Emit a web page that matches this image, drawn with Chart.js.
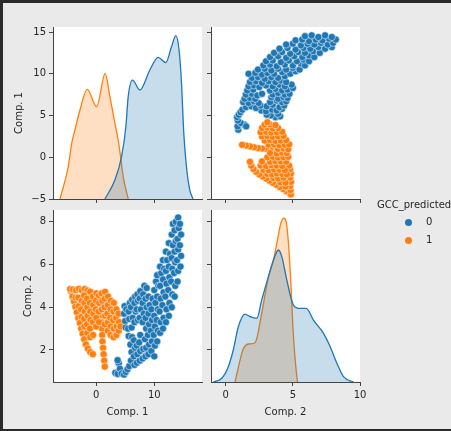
<!DOCTYPE html>
<html>
<head>
<meta charset="utf-8">
<script src="https://cdn.jsdelivr.net/npm/chart.js@4.4.0/dist/chart.umd.min.js"></script>
<style>
  html, body { margin: 0; padding: 0; background: #2b2b2b; }
  #wrap { position: relative; width: 451px; height: 431px; overflow: hidden; }
  #inner { position: absolute; left: 3px; top: 3px; width: 448px; height: 426px; background: #eaeaea; }
  canvas { position: absolute; left: 0; top: 0; }
  .leg { position: absolute; font-family: 'DejaVu Sans'; font-size: 10px; color: #262626; line-height: 12px; white-space: nowrap; }
  .dot { position: absolute; width: 7px; height: 7px; border-radius: 50%; }
</style>
</head>
<body>
<div id="wrap">
  <div id="inner"></div>
  <canvas id="kde1" width="451" height="431"></canvas>
  <canvas id="sc12" width="451" height="431"></canvas>
  <canvas id="sc21" width="451" height="431"></canvas>
  <canvas id="kde2" width="451" height="431"></canvas>
  <div class="leg" style="left:377px; top:199px;">GCC_predicted</div>
  <div class="dot" style="left:405px; top:219px; background:#1f77b4;"></div>
  <div class="leg" style="left:426px; top:216px;">0</div>
  <div class="dot" style="left:405px; top:237px; background:#ff7f0e;"></div>
  <div class="leg" style="left:426px; top:234px;">1</div>
</div>
<script>
// categories
const hueLabels = ['0', '1'];

// scatter points [Comp. 1, Comp. 2]
const pointsGcc0 = [
  [3.3,0.93],[3.7,0.88],[3.9,1.38],[4.1,1.12],[3.7,1.52],[4.4,0.9],[4.8,0.85],[5.1,0.97],[5.4,1.1],[5.7,1.24],
  [4.8,3.7],[4.9,4.05],[5.0,3.35],[5.2,3.9],[5.1,3.05],
  [5.6,2.65],[5.5,3.0],[5.7,3.45],[5.6,3.8],[5.8,4.2],
  [6.0,1.5],[6.1,1.9],[5.9,2.25],[6.2,2.6],[6.1,3.05],[6.3,3.5],[6.0,4.0],[6.2,4.35],
  [6.6,1.3],[6.5,1.7],[6.7,2.1],[6.5,2.45],[6.6,3.3],[6.8,3.8],[6.6,4.2],[6.7,4.5],
  [7.0,1.4],[7.1,1.8],[7.0,2.2],[7.2,3.4],[7.0,3.9],[7.2,4.3],[7.1,4.6],
  [7.5,1.5],[7.6,1.95],[7.4,2.35],[7.6,2.7],[7.5,3.5],[7.7,3.9],[7.5,4.4],[7.6,4.75],
  [8.0,1.6],[8.1,2.05],[8.0,3.3],[8.2,3.7],[8.0,4.2],[8.1,4.6],[8.3,5.0],
  [8.5,1.7],[8.6,2.1],[8.4,2.5],[8.6,3.0],[8.5,3.5],[8.7,4.0],[8.5,4.4],[8.7,4.9],
  [9.0,1.8],[9.1,2.25],[8.9,2.7],[9.1,3.2],[9.0,3.7],[9.2,4.1],[9.0,4.5],
  [9.5,1.95],[9.6,2.4],[9.4,2.9],[9.6,3.4],[9.5,3.9],[9.7,4.4],
  [10.0,1.7],[10.1,2.2],[9.9,2.7],[10.1,3.1],[10.0,3.6],[10.2,4.2],[10.0,4.8],[10.3,5.2],
  [10.5,2.4],[10.6,2.9],[10.4,3.4],[10.6,3.9],[10.5,4.5],[10.7,5.0],[10.5,5.5],
  [11.0,2.8],[11.1,3.3],[10.9,3.8],[11.1,4.4],[11.0,5.0],[11.2,5.6],[11.0,5.9],
  [11.5,3.0],[11.6,3.5],[11.4,4.1],[11.6,4.7],[11.5,5.3],[11.7,5.8],[11.5,6.2],
  [12.0,3.3],[12.1,3.9],[11.9,4.5],[12.1,5.1],[12.0,5.7],[12.2,6.2],[12.0,6.6],
  [12.5,3.6],[12.6,4.2],[12.4,4.8],[12.6,5.4],[12.5,5.9],[12.7,6.5],[12.5,7.0],
  [13.0,4.0],[13.1,4.6],[12.9,5.2],[13.1,5.8],[13.0,6.3],[13.2,6.9],[13.0,7.4],[13.2,7.9],
  [13.5,4.5],[13.6,5.0],[13.4,5.6],[13.6,6.1],[13.5,6.6],[13.7,7.1],[13.5,7.6],[13.7,8.0],
  [14.0,5.2],[14.1,5.7],[13.9,6.2],[14.1,6.7],[14.0,7.2],[14.2,7.7],[14.1,8.2],
  [14.5,5.9],[14.6,6.4],[14.4,6.9],[14.6,7.4],[14.4,7.9]
];
const pointsGcc1 = [
  [-4.3,4.75],[-4.05,4.5],[-3.8,4.27],[-3.55,4.02],[-3.3,3.76],[-3.05,3.5],[-2.8,3.26],[-2.55,3.0],
  [-2.3,2.76],[-2.05,2.5],[-1.75,2.26],[-1.4,2.06],[-1.0,1.9],[-0.55,1.8],
  [-4.45,4.85],[-3.95,4.83],[-3.45,4.8],[-2.95,4.86],[-2.45,4.8],[-1.95,4.85],[-1.45,4.78],[-1.0,4.72],
  [0.8,3.6],[0.9,3.3],[1.0,3.0],[1.05,2.7],[1.1,2.4],[1.2,2.1],[1.3,1.8],[1.4,1.5],[1.5,1.22],
  [-3.5,4.45],[-3.0,4.05],[-3.05,4.45],
  [-2.5,3.55],[-2.55,3.9],[-2.45,4.3],
  [-2.0,3.1],[-2.05,3.45],[-1.95,3.8],[-2.0,4.2],[-2.05,4.55],
  [-1.5,2.8],[-1.55,3.2],[-1.45,3.6],[-1.5,4.0],[-1.55,4.4],
  [-1.0,2.6],[-1.05,3.0],[-0.95,3.4],[-1.0,3.8],[-1.05,4.2],
  [-0.5,2.7],[-0.55,3.3],[-0.45,3.7],[-0.5,4.1],[-0.55,4.5],
  [0.0,3.1],[0.05,3.5],[-0.05,3.9],[0.0,4.3],[0.05,4.65],
  [0.5,3.3],[0.45,3.8],[0.55,4.2],[0.5,4.55],
  [1.0,3.9],[1.05,4.3],[0.95,4.65],
  [1.5,3.2],[1.55,3.6],[1.45,4.0],[1.5,4.4],[1.55,4.72],
  [2.0,2.9],[2.05,3.3],[1.95,3.7],[2.0,4.1],[2.05,4.5],
  [2.5,2.7],[2.55,3.1],[2.45,3.5],[2.5,3.9],[2.55,4.3],
  [3.0,2.6],[3.05,3.0],[2.95,3.4],[3.0,3.8],[3.05,4.2],
  [3.5,2.7],[3.55,3.1],[3.45,3.5],[3.5,3.9],
  [3.9,2.9],[3.95,3.3],[3.85,3.7],[4.2,3.1]
];

// KDE curves
const kdeComp1X_0 = [1.52, 3.23, 4.38, 5.12, 5.52, 6.27, 7.52, 9.24, 10.66, 11.98, 12.96, 13.70, 14.26, 14.68, 15.07, 15.53, 16.10, 16.66];
const kdeComp1Y_0 = [0, 0.0088, 0.0197, 0.0336, 0.0476, 0.0553, 0.0507, 0.060, 0.0659, 0.0634, 0.0708, 0.076, 0.0693, 0.0538, 0.0306, 0.015, 0.0042, 0];
const kdeComp1X_1 = [-6.2, -4.78, -4.19, -3.63, -2.77, -1.52, 0.10, 1.57, 2.38, 3.24, 3.80, 4.21, 4.66, 5.52];
const kdeComp1Y_1 = [0, 0.015, 0.0259, 0.0321, 0.0414, 0.051, 0.0429, 0.0584, 0.0476, 0.0352, 0.0274, 0.0197, 0.0104, 0];
const kdeComp2X_0 = [-0.93, -0.30, 0.19, 0.56, 0.94, 1.44, 1.81, 2.31, 2.68, 3.18, 3.60, 3.92, 4.18, 4.55, 5.04, 5.54, 5.99, 6.53, 7.28, 7.78, 8.28, 8.77, 9.52];
const kdeComp2Y_0 = [0, 0.0086, 0.0356, 0.0744, 0.129, 0.158, 0.152, 0.148, 0.191, 0.245, 0.288, 0.307, 0.291, 0.237, 0.179, 0.171, 0.171, 0.144, 0.113, 0.082, 0.0435, 0.0123, 0];
const kdeComp2X_1 = [0.69, 1.01, 1.27, 1.68, 2.18, 2.68, 3.18, 3.55, 3.85, 4.10, 4.33, 4.50, 4.67, 4.85, 5.00, 5.15, 5.34];
const kdeComp2Y_1 = [0, 0.0435, 0.0744, 0.0884, 0.0914, 0.16, 0.245, 0.284, 0.330, 0.369, 0.381, 0.373, 0.323, 0.230, 0.129, 0.059, 0];

// tick labels
const ticksComp1 = [0, 10];
const ticksComp1Row = [-5, 0, 5, 10, 15];
const ticksComp2 = [0, 5, 10];
const ticksComp2Row = [2, 4, 6, 8];

const colors = ['#1f77b4', '#ff7f0e'];
const fills = ['rgba(31,119,180,0.25)', 'rgba(255,127,14,0.25)'];
const AXIS_COLOR = '#444';
const TEXT_COLOR = '#262626';
const FONT = {family: 'DejaVu Sans', size: 10};

// white face for each axes
const whiteArea = {
  id: 'whiteArea',
  beforeDraw(chart) {
    const a = chart.chartArea;
    const ctx = chart.ctx;
    ctx.save();
    ctx.fillStyle = '#ffffff';
    ctx.fillRect(a.left, a.top, a.right - a.left, a.bottom - a.top);
    ctx.restore();
  }
};

function axis(o) {
  return {
    type: 'linear',
    position: o.position,
    min: o.min,
    max: o.max,
    afterBuildTicks: s => { s.ticks = o.ticks.map(v => ({value: v})); },
    afterFit: s => { if (o.position === 'left') s.width = o.size; else s.height = o.size; },
    grid: {drawOnChartArea: false, drawTicks: true, tickLength: 4, tickColor: AXIS_COLOR, tickWidth: 1},
    border: {display: true, color: AXIS_COLOR, width: 1},
    ticks: {
      display: o.labels, color: TEXT_COLOR, font: FONT, padding: 3,
      maxRotation: 0, autoSkip: false,
      callback: v => v < 0 ? '\u2212' + Math.abs(v) : String(v)
    },
    title: {display: !!o.title, text: o.title || '', color: TEXT_COLOR, font: FONT, padding: 0}
  };
}

function zip(xs, ys) {
  return xs.map((x, i) => ({x: x, y: ys[i]}));
}

function kdeSet(xs, ys, k) {
  return {
    type: 'line', label: hueLabels[k], data: zip(xs, ys), yAxisID: 'yd',
    borderColor: colors[k], backgroundColor: fills[k], borderWidth: 1.3,
    fill: 'origin', pointRadius: 0, cubicInterpolationMode: 'monotone'
  };
}

function scatterSet(pts, k, flip) {
  return {
    type: 'scatter', label: hueLabels[k],
    data: pts.map(p => flip ? {x: p[1], y: p[0]} : {x: p[0], y: p[1]}),
    backgroundColor: colors[k], borderColor: 'rgba(255,255,255,0.85)',
    borderWidth: 0.6, pointRadius: 3.6
  };
}

function panel(id, datasets, scales, pad) {
  new Chart(document.getElementById(id), {
    type: 'scatter',
    data: {datasets: datasets},
    options: {
      responsive: false,
      animation: false,
      layout: {padding: pad},
      plugins: {legend: {display: false}, tooltip: {enabled: false}},
      scales: scales
    },
    plugins: [whiteArea]
  });
}

const comp1Range = {min: -7.4, max: 18.2};
const comp1RowRange = {min: -5, max: 15.6};
const comp2Range = {min: -1.1, max: 10};
const comp2RowRange = {min: 0.5, max: 8.55};

// top-left: KDE of Comp. 1
panel('kde1',
  [kdeSet(kdeComp1X_0, kdeComp1Y_0, 0), kdeSet(kdeComp1X_1, kdeComp1Y_1, 1)],
  {
    x: axis(Object.assign({position: 'bottom', ticks: ticksComp1, labels: false, size: 6}, comp1Range)),
    y: axis(Object.assign({position: 'left', ticks: ticksComp1Row, labels: true, size: 40, title: 'Comp. 1'}, comp1RowRange)),
    yd: {type: 'linear', display: false, min: 0, max: 0.08}
  },
  {left: 13, top: 27, right: 249, bottom: 226});

// top-right: Comp. 2 vs Comp. 1
panel('sc12',
  [scatterSet(pointsGcc0, 0, true), scatterSet(pointsGcc1, 1, true)],
  {
    x: axis(Object.assign({position: 'bottom', ticks: ticksComp2, labels: false, size: 6}, comp2Range)),
    y: axis(Object.assign({position: 'left', ticks: ticksComp1Row, labels: false, size: 6}, comp1RowRange))
  },
  {left: 205, top: 27, right: 91, bottom: 226});

// bottom-left: Comp. 1 vs Comp. 2
panel('sc21',
  [scatterSet(pointsGcc0, 0, false), scatterSet(pointsGcc1, 1, false)],
  {
    x: axis(Object.assign({position: 'bottom', ticks: ticksComp1, labels: true, size: 36, title: 'Comp. 1'}, comp1Range)),
    y: axis(Object.assign({position: 'left', ticks: ticksComp2Row, labels: true, size: 31, title: 'Comp. 2'}, comp2RowRange))
  },
  {left: 22, top: 210, right: 249, bottom: 13});

// bottom-right: KDE of Comp. 2
panel('kde2',
  [kdeSet(kdeComp2X_0, kdeComp2Y_0, 0), kdeSet(kdeComp2X_1, kdeComp2Y_1, 1)],
  {
    x: axis(Object.assign({position: 'bottom', ticks: ticksComp2, labels: true, size: 36, title: 'Comp. 2'}, comp2Range)),
    y: axis(Object.assign({position: 'left', ticks: ticksComp2Row, labels: false, size: 6}, comp2RowRange)),
    yd: {type: 'linear', display: false, min: 0, max: 0.4}
  },
  {left: 205, top: 210, right: 91, bottom: 13});
</script>
</body>
</html>
